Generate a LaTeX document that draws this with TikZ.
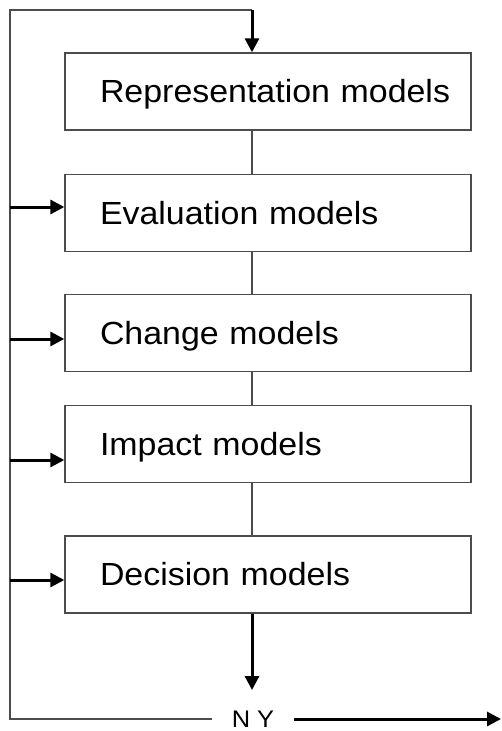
\documentclass[tikz,border=0pt]{standalone}
\usepackage{fontspec}
\setmainfont{Liberation Sans}[FakeStretch=1.06]
\usetikzlibrary{arrows.meta}
\tikzset{
  model/.style={draw=black!70, line width=1.4pt, rectangle, minimum height=77pt,
    text width=406pt, inner xsep=0pt, inner ysep=0pt, align=left,
    text height=22pt, text depth=0pt, font=\fontsize{32}{38}\selectfont,
    execute at begin node={\hspace*{35pt}}},
  thin/.style={draw=black!70, line width=1.4pt},
  arr/.style={line width=3pt, -{Triangle[length=14pt,width=14pt]}}
}
\begin{document}
\begin{tikzpicture}[x=1pt,y=-1pt]
        \useasboundingbox (0,0) rectangle (501,731);

        \draw (268,91.5) node[model] (rep) {Representation models};
        \draw (268,213) node[model] (eval) {Evaluation models};
        \draw (268,333) node[model] (change) {Change models};
        \draw (268,444) node[model] (impact) {Impact models};
        \draw (268,574.5) node[model] (dec) {Decision models};
        \draw (253,719) node[inner xsep=20pt, inner ysep=0pt, text height=16pt, text depth=0pt,
          font=\fontsize{24}{28}\selectfont] (ny) {N Y};

        \coordinate (top) at (252,10);
        \coordinate (corner) at (10,10);
        \coordinate (bottom) at (10,719);
        \coordinate (out) at (252,690);
        \coordinate (exit) at (501,719);
        \coordinate (in2) at (10,207);
        \coordinate (in3) at (10,339);
        \coordinate (in4) at (10,460);
        \coordinate (in5) at (10,580);

        \draw[thin] (ny.west |- bottom) -- (bottom) -- (corner) -- (top);
        \draw[arr] (top) -- (top |- rep.north);

        \draw[thin] (rep.south -| top) -- (eval.north -| top);
        \draw[thin] (eval.south -| top) -- (change.north -| top);
        \draw[thin] (change.south -| top) -- (impact.north -| top);
        \draw[thin] (impact.south -| top) -- (dec.north -| top);

        \draw[arr] (in2) -- (in2 -| eval.west);
        \draw[arr] (in3) -- (in3 -| change.west);
        \draw[arr] (in4) -- (in4 -| impact.west);
        \draw[arr] (in5) -- (in5 -| dec.west);

        \draw[arr] (dec.south -| top) -- (out);
        \draw[arr] (ny.east |- exit) -- (exit);
\end{tikzpicture}
\end{document}
